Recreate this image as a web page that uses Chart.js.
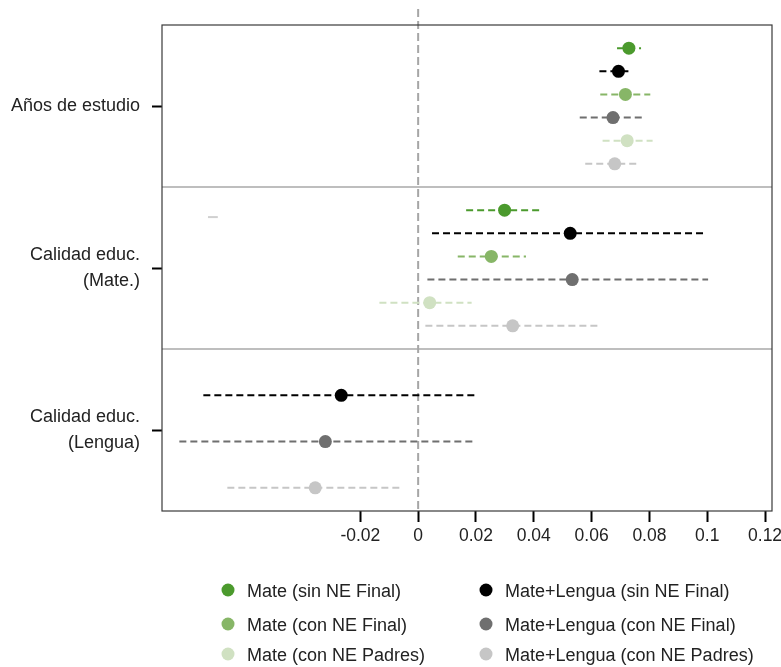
<!DOCTYPE html>
<html>
<head>
<meta charset="utf-8">
<script src="https://cdn.jsdelivr.net/npm/chart.js@4.4.0/dist/chart.umd.min.js"></script>
<style>
  body { margin: 0; background: #fff; }
  #wrap { position: relative; width: 781px; height: 667px; }
  #legend .item { position: absolute; font: 18px 'Liberation Sans', Arial, sans-serif; color: #222; white-space: nowrap; transform: translateY(-50%); }
  #legend .dot { position: absolute; width: 13px; height: 13px; border-radius: 50%; transform: translate(-50%, -50%); }
</style>
</head>
<body>
<div id="wrap">
  <canvas id="chart" width="781" height="667"></canvas>
  <div id="legend"></div>
</div>
<script>
// categories (rows of the plot, top to bottom)
const categories = [['Años de estudio'], ['Calidad educ.', '(Mate.)'], ['Calidad educ.', '(Lengua)']];

const seriesLabels = [
  'Mate (sin NE Final)', 'Mate+Lengua (sin NE Final)',
  'Mate (con NE Final)', 'Mate+Lengua (con NE Final)',
  'Mate (con NE Padres)', 'Mate+Lengua (con NE Padres)'
];
const seriesColors = ['#4b9a2d', '#000000', '#87b667', '#6f6f6f', '#d0e1c2', '#c6c6c6'];

// point estimates per series, one value per category
const estimates = [
  [0.0729, 0.0299, null],
  [0.0693, 0.0526, -0.0266],
  [0.0717, 0.0253, null],
  [0.0674, 0.0533, -0.0321],
  [0.0723, 0.0040, null],
  [0.0680, 0.0327, -0.0356]
];
const lowerCI = [
  [0.0688, 0.0166, null],
  [0.0627, 0.0048, -0.0743],
  [0.0630, 0.0137, null],
  [0.0559, 0.0032, -0.0826],
  [0.0638, -0.0134, null],
  [0.0578, 0.0025, -0.0660]
];
const upperCI = [
  [0.0771, 0.0421, null],
  [0.0736, 0.0995, 0.0203],
  [0.0803, 0.0373, null],
  [0.0785, 0.1003, 0.0195],
  [0.0811, 0.0185, null],
  [0.0763, 0.0633, -0.0060]
];

// small stray segment seen in the original figure
const strayX = [-0.0727, -0.0693];
const strayRow = 8.3;

const xTicks = [-0.02, 0, 0.02, 0.04, 0.06, 0.08, 0.1, 0.12];

const SLOTS = 7; // rows per category block (6 series + margins)
const rowOf = (g, s) => g * SLOTS + 1 + s;

const datasets = [];
seriesLabels.forEach((label, s) => {
  const pts = [];
  categories.forEach((c, g) => {
    if (estimates[s][g] === null) return;
    pts.push({ x: estimates[s][g], y: rowOf(g, s) });
    datasets.push({
      data: [{ x: lowerCI[s][g], y: rowOf(g, s) }, { x: upperCI[s][g], y: rowOf(g, s) }],
      showLine: true,
      borderColor: seriesColors[s],
      borderWidth: 2,
      borderDash: [7, 4],
      pointRadius: 0,
      order: 2
    });
  });
  datasets.push({
    label: label,
    data: pts,
    pointRadius: 6.5,
    pointBackgroundColor: seriesColors[s],
    pointBorderWidth: 0,
    order: 1
  });
});
datasets.push({
  data: strayX.map(v => ({ x: v, y: strayRow })),
  showLine: true,
  borderColor: '#d0d0d0',
  borderWidth: 2,
  pointRadius: 0,
  order: 3
});

const framePlugin = {
  id: 'frame',
  beforeDatasetsDraw(chart) {
    const { ctx, chartArea: a, scales: { x, y } } = chart;
    ctx.save();
    ctx.strokeStyle = '#a9a9a9';
    ctx.lineWidth = 1.5;
    for (let g = 1; g < categories.length; g++) {
      const py = y.getPixelForValue(g * SLOTS);
      ctx.beginPath();
      ctx.moveTo(a.left, py);
      ctx.lineTo(a.right, py);
      ctx.stroke();
    }
    const px = x.getPixelForValue(0);
    ctx.strokeStyle = '#a6a6a6';
    ctx.lineWidth = 2;
    ctx.setLineDash([8, 4]);
    ctx.beginPath();
    ctx.moveTo(px, a.top - 16);
    ctx.lineTo(px, a.bottom);
    ctx.stroke();
    ctx.restore();
  },
  afterDatasetsDraw(chart) {
    const { ctx, chartArea: a } = chart;
    ctx.save();
    ctx.strokeStyle = '#3a3a3a';
    ctx.lineWidth = 1.2;
    ctx.strokeRect(a.left, a.top, a.right - a.left, a.bottom - a.top);
    ctx.restore();
  }
};

const family = "'Liberation Sans', Arial, sans-serif";

new Chart(document.getElementById('chart'), {
  type: 'scatter',
  data: { datasets },
  plugins: [framePlugin],
  options: {
    responsive: false,
    animation: false,
    devicePixelRatio: 1,
    layout: { padding: { top: 25, right: 9, left: 0, bottom: 0 } },
    plugins: { legend: { display: false }, tooltip: { enabled: false } },
    scales: {
      x: {
        type: 'linear',
        min: -0.0886,
        max: 0.1224,
        afterBuildTicks: scale => { scale.ticks = xTicks.map(v => ({ value: v })); },
        afterFit: scale => {
          scale.height = 156;
          scale.paddingLeft = 0;
          scale.paddingRight = 0;
        },
        grid: { drawOnChartArea: false, tickLength: 11, tickColor: '#000', tickWidth: 2 },
        border: { display: false },
        ticks: {
          font: { family, size: 17.5 }, color: '#222', padding: 4, maxRotation: 0, autoSkip: false,
          callback: v => String(Number(v.toFixed(4)))
        }
      },
      y: {
        type: 'linear',
        reverse: true,
        min: 0,
        max: categories.length * SLOTS,
        afterBuildTicks: scale => {
          scale.ticks = categories.map((c, g) => ({ value: g * SLOTS + SLOTS / 2 }));
        },
        afterFit: scale => {
          scale.width = 162;
          scale.paddingTop = 0;
          scale.paddingBottom = 0;
        },
        grid: { drawOnChartArea: false, tickLength: 10, tickColor: '#000', tickWidth: 2 },
        border: { display: false },
        ticks: {
          font: { family, size: 18, lineHeight: 1.4 }, color: '#222', padding: 12, autoSkip: false,
          callback: v => categories[Math.round((v - SLOTS / 2) / SLOTS)]
        }
      }
    }
  }
});

// two-column legend below the plot
const legend = document.getElementById('legend');
const colX = [228, 486];
const rowY = [591, 625, 655];
seriesLabels.forEach((label, i) => {
  const col = i % 2, row = Math.floor(i / 2);
  const dot = document.createElement('span');
  dot.className = 'dot';
  dot.style.left = colX[col] + 'px';
  dot.style.top = (rowY[row] - 1) + 'px';
  dot.style.background = seriesColors[i];
  const txt = document.createElement('span');
  txt.className = 'item';
  txt.style.left = (colX[col] + 19) + 'px';
  txt.style.top = rowY[row] + 'px';
  txt.textContent = label;
  legend.appendChild(dot);
  legend.appendChild(txt);
});
</script>
</body>
</html>
